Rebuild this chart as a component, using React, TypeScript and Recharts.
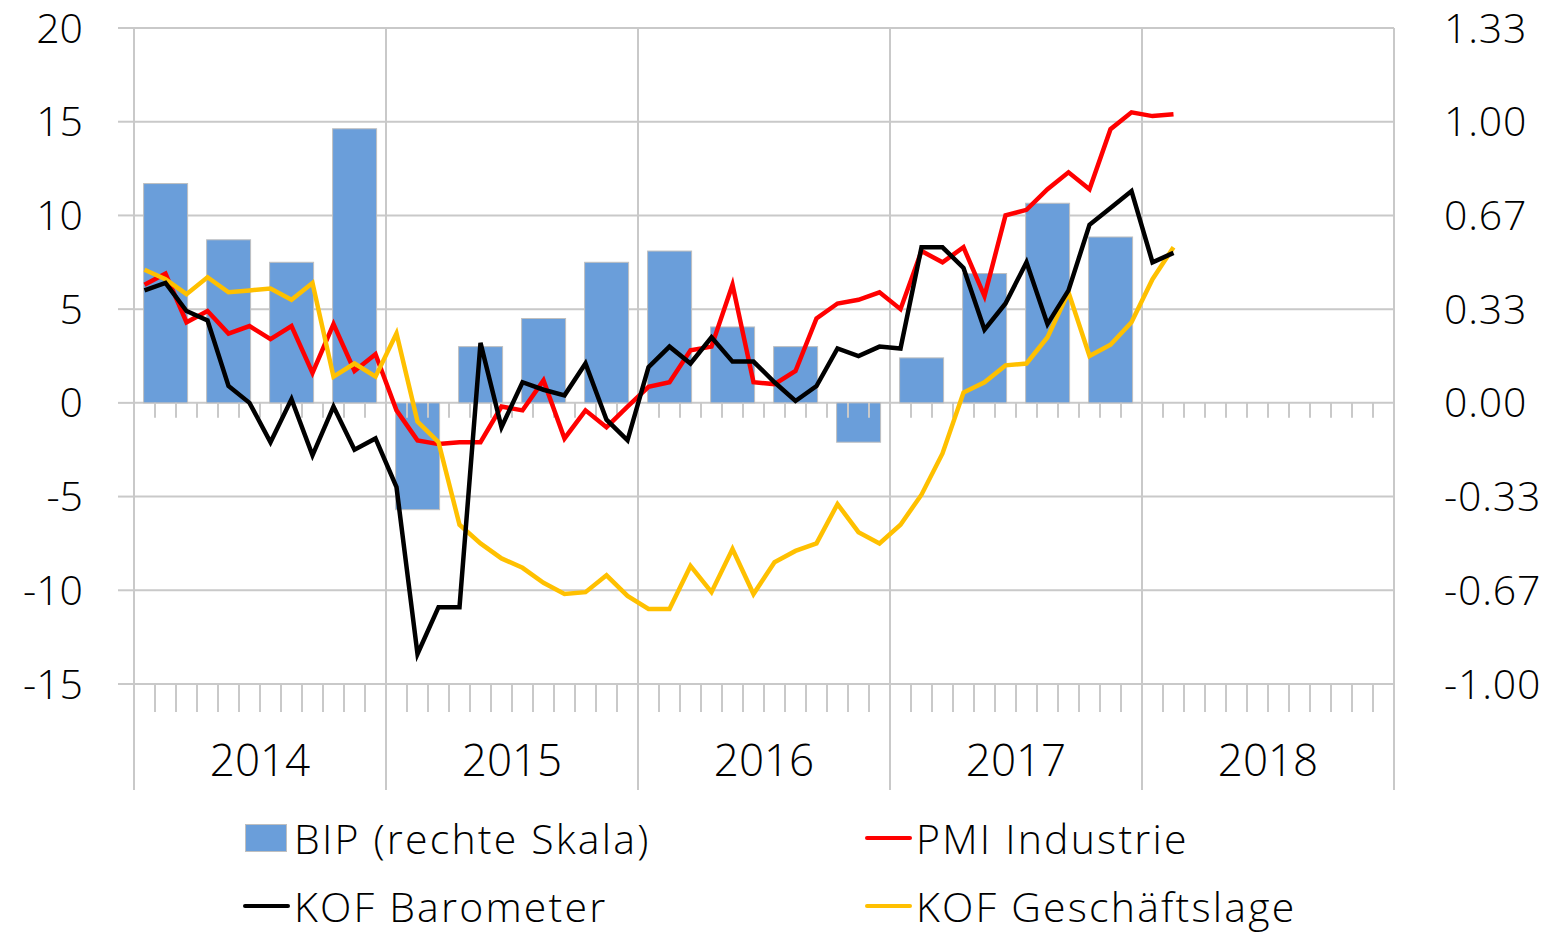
import React from 'react'
import { Bar, CartesianGrid, ComposedChart, Line, ReferenceLine, XAxis, YAxis } from 'recharts'

const years = ['2014', '2015', '2016', '2017', '2018']
const monthNames = ['Jan', 'Feb', 'Mär', 'Apr', 'Mai', 'Jun', 'Jul', 'Aug', 'Sep', 'Okt', 'Nov', 'Dez']

// BIP, Quartale Q1 2014 - Q4 2017 (rechte Skala)
const bip = [0.78, 0.58, 0.5, 0.975, -0.38, 0.2, 0.3, 0.5, 0.54, 0.27, 0.2, -0.14, 0.16, 0.46, 0.71, 0.59]

// Monatswerte Jan 2014 - Feb 2018
const pmiIndustrie = [
  6.3, 6.9, 4.3, 4.9, 3.7, 4.1, 3.4, 4.1, 1.6, 4.2, 1.7, 2.6,
  -0.4, -2.0, -2.2, -2.1, -2.1, -0.2, -0.4, 1.2, -1.9, -0.4, -1.3, -0.2,
  0.85, 1.1, 2.8, 3.0, 6.3, 1.1, 1.0, 1.7, 4.5, 5.3, 5.5, 5.9,
  5.0, 8.1, 7.5, 8.3, 5.7, 10.0, 10.3, 11.4, 12.3, 11.4, 14.6, 15.5,
  15.3, 15.4,
]
const kofBarometer = [
  6.0, 6.4, 4.9, 4.4, 0.9, 0.0, -2.1, 0.2, -2.8, -0.2, -2.5, -1.9,
  -4.5, -13.4, -10.9, -10.9, 3.2, -1.3, 1.1, 0.7, 0.4, 2.1, -0.9, -2.0,
  1.9, 3.0, 2.1, 3.5, 2.2, 2.2, 1.1, 0.1, 0.9, 2.9, 2.5, 3.0,
  2.9, 8.3, 8.3, 7.2, 3.9, 5.3, 7.5, 4.2, 6.0, 9.5, 10.4, 11.3,
  7.5, 8.0,
]
const kofGeschaeftslage = [
  7.1, 6.6, 5.8, 6.7, 5.9, 6.0, 6.1, 5.5, 6.4, 1.4, 2.1, 1.4,
  3.7, -1.0, -2.1, -6.5, -7.5, -8.3, -8.8, -9.6, -10.2, -10.1, -9.2, -10.3,
  -11.0, -11.0, -8.7, -10.1, -7.8, -10.2, -8.5, -7.9, -7.5, -5.4, -6.9, -7.5,
  -6.5, -4.9, -2.7, 0.55, 1.1, 2.0, 2.1, 3.5, 5.9, 2.5, 3.1, 4.3,
  6.6, 8.3,
]

const leftTicks = [-15, -10, -5, 0, 5, 10, 15, 20]
const rightTicks = [-1, -2 / 3, -1 / 3, 0, 1 / 3, 2 / 3, 1, 4 / 3]

const months = years.flatMap((y) => monthNames.map((m) => `${m} ${y}`))
const data = months.map((m, i) => ({
  m,
  pos: i + 0.5,
  bip: i % 3 === 1 ? bip[(i - 1) / 3] : undefined,
  pmi: pmiIndustrie[i],
  kofBaro: kofBarometer[i],
  kofGesch: kofGeschaeftslage[i],
}))

const monthBounds = [...months.keys(), months.length]
const yearBounds = [...years.keys(), years.length].map((i) => i * 12)

const FONT = '"Open Sans", "Noto Sans", sans-serif'
const GRID = '#C9C9C9'
const BLUE = '#6A9EDA'
const RED = '#FF0000'
const YELLOW = '#FFC000'
const BAR_W = 44

const legendItems = [
  { name: 'BIP (rechte Skala)', color: BLUE, kind: 'box' },
  { name: 'PMI Industrie', color: RED, kind: 'line' },
  { name: 'KOF Barometer', color: '#000000', kind: 'line' },
  { name: 'KOF Geschäftslage', color: YELLOW, kind: 'line' },
]

const WideBar = (props: any) => {
  const { x, y, width, height, payload } = props
  if (payload?.bip == null || !isFinite(height) || !isFinite(y)) return null
  const cx = x + width / 2
  const top = Math.min(y, y + height)
  return (
    <rect x={cx - BAR_W / 2} y={top} width={BAR_W} height={Math.abs(height)}
      fill={BLUE} stroke="#BFBFBF" strokeWidth={1} />
  )
}

const MonthTick = (props: any) => {
  const { x, y, payload } = props
  const k = payload.value as number
  const yearEdge = k % 12 === 0
  const label = k % 12 === 6 ? years[(k - 6) / 12] : null
  return (
    <g>
      <line x1={x} x2={x} y1={y} y2={y + (yearEdge ? 106 : 28)} stroke={GRID} strokeWidth={2} />
      {label && (
        <text x={x} y={y + 92} textAnchor="middle" fontSize={44} fontWeight={300}
          fontFamily={FONT} fill="#000">{label}</text>
      )}
    </g>
  )
}

const ChartLegend = () => (
  <div style={{
    position: 'absolute', left: 243, top: 813, display: 'grid',
    gridTemplateColumns: '622px auto', gridTemplateRows: '50px 50px', rowGap: 18,
    fontFamily: FONT, fontWeight: 300, fontSize: 41, letterSpacing: 2.2, color: '#000',
  }}>
    {legendItems.map((it) => (
      <div key={it.name} style={{ display: 'flex', alignItems: 'center', whiteSpace: 'nowrap' }}>
        {it.kind === 'box' ? (
          <span style={{ width: 42, height: 28, marginLeft: 2, marginRight: 7, background: it.color,
            border: '1px solid #BFBFBF', boxSizing: 'border-box' }} />
        ) : (
          <span style={{ width: 47, height: 4.5, marginRight: 4, background: it.color, borderRadius: 2 }} />
        )}
        <span style={{ lineHeight: 1 }}>{it.name}</span>
      </div>
    ))}
  </div>
)

export default function App() {
  return (
    <div style={{ position: 'absolute', left: 0, top: 0, width: 1558, height: 934, background: '#fff' }}>
      <ComposedChart width={1558} height={934} data={data}
        margin={{ top: 28, right: 0, bottom: 140, left: 0 }}>
        <CartesianGrid yAxisId="left" vertical={false} stroke={GRID} strokeWidth={2} />
        <XAxis xAxisId="m" dataKey="m" hide />
        <XAxis xAxisId="grid" dataKey="pos" type="number" domain={[0, months.length]} allowDataOverflow
          ticks={monthBounds} interval={0} height={110} axisLine={false} tickLine={false}
          tickSize={0} tickMargin={0} tick={<MonthTick />} />
        <YAxis yAxisId="left" domain={[-15, 20]} ticks={leftTicks} width={134} axisLine={false}
          tickLine={{ stroke: GRID, strokeWidth: 2 }} tickSize={16} tickMargin={35}
          tick={{ fontSize: 41, fill: '#000', fontFamily: FONT, fontWeight: 300 }} />
        <YAxis yAxisId="right" orientation="right" domain={[-1, 4 / 3]} ticks={rightTicks} width={164}
          axisLine={false} tickLine={false} tickSize={0} tickMargin={50}
          tickFormatter={(v: number) => v.toFixed(2)}
          tick={{ fontSize: 41, fill: '#000', fontFamily: FONT, fontWeight: 300, textAnchor: 'start', letterSpacing: 0.8 }} />
        <Bar xAxisId="m" yAxisId="right" dataKey="bip" name="BIP (rechte Skala)"
          shape={<WideBar />} isAnimationActive={false} />
        {yearBounds.map((k) => (
          <ReferenceLine key={`y${k}`} xAxisId="grid" yAxisId="left" x={k} stroke={GRID} strokeWidth={2} />
        ))}
        {monthBounds.map((k) => (
          <ReferenceLine key={`t${k}`} xAxisId="grid" yAxisId="left"
            segment={[{ x: k, y: 0 }, { x: k, y: -0.8 }]} stroke={GRID} strokeWidth={2} />
        ))}
        <Line xAxisId="m" yAxisId="left" dataKey="pmi" name="PMI Industrie" stroke={RED}
          strokeWidth={4.5} dot={false} type="linear" isAnimationActive={false} />
        <Line xAxisId="m" yAxisId="left" dataKey="kofGesch" name="KOF Geschäftslage" stroke={YELLOW}
          strokeWidth={4.5} dot={false} type="linear" isAnimationActive={false} />
        <Line xAxisId="m" yAxisId="left" dataKey="kofBaro" name="KOF Barometer" stroke="#000000"
          strokeWidth={4.5} dot={false} type="linear" isAnimationActive={false} />
      </ComposedChart>
      <ChartLegend />
    </div>
  )
}
